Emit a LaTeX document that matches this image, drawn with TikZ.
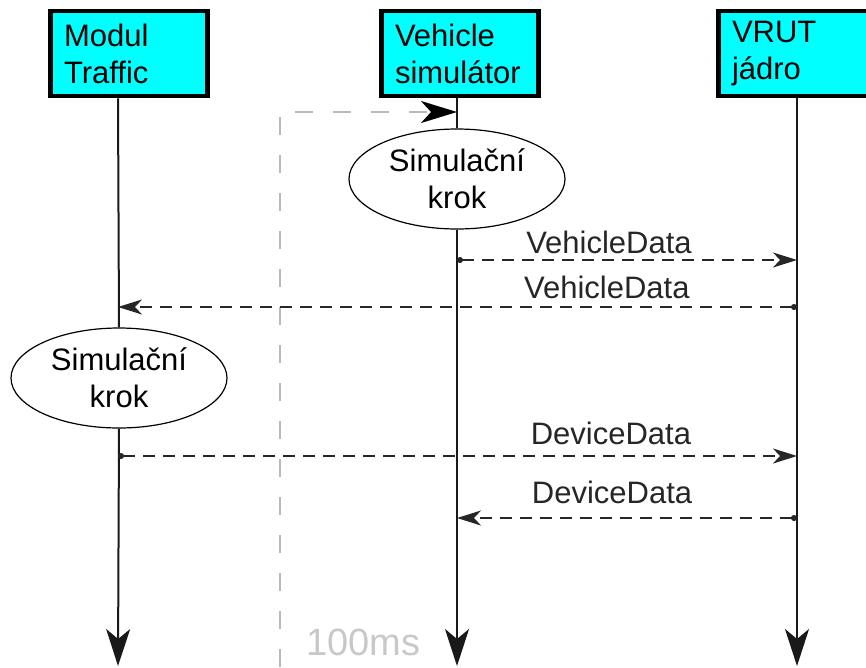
\documentclass[tikz,border=0pt]{standalone}
\usepackage{fontspec}
\setmainfont{Liberation Sans}
\usetikzlibrary{arrows.meta,shapes.geometric}
\definecolor{boxcyan}{RGB}{0,255,255}
\definecolor{loopgray}{RGB}{185,185,185}
\definecolor{msgray}{RGB}{200,200,200}
\begin{document}
\begin{tikzpicture}[x=1pt, y=-1pt, every node/.style={font=\fontsize{31}{37}\selectfont},
  box/.style={draw,line width=4.5pt,fill=boxcyan,minimum width=157pt,minimum height=85pt,text width=130pt,align=left,inner sep=0pt},
  krok/.style={draw,ellipse,line width=1.2pt,minimum width=216pt,minimum height=100pt,align=center,inner sep=0pt},
  life/.style={line width=2pt,black!90},
  lifeend/.style={life,-{Stealth[length=37pt,width=24pt,inset=10pt]}},
  msg/.style={line width=1.5pt,black!85,dash pattern=on 12pt off 8pt,{Circle[length=6pt]}-{Stealth[length=24pt,width=15pt,inset=7pt]}},
  lbl/.style={anchor=base,inner sep=0pt}]
\useasboundingbox (0,0) rectangle (866,667);
\node[box] (traffic) at (129,53.5) {Modul\\Traffic};
\node[box] (vehicle) at (460,53.5) {Vehicle\\simulátor};
\node[box] (vrut) at (797,53.5) {VRUT\\jádro};
\coordinate (trafficEnd) at (118,666);
\coordinate (vehicleEnd) at (457,666);
\coordinate (vrutEnd) at (797,666);
\node[krok] (vkrok) at (457,179) {Simulační\\krok};
\node[krok] (tkrok) at (119,378) {Simulační\\krok};
% 100ms loop
\coordinate (tick) at (280,667);
\draw[line width=2pt,loopgray,dash pattern=on 18pt off 20pt,-{Stealth[black,length=36pt,width=22pt,inset=10pt]}]
  (tick) |- (vehicleEnd |- 0,112);
\node[lbl,anchor=base west,text=msgray,font=\fontsize{38}{44}\selectfont] (period) at (306,655) {100ms};
% lifelines
\draw[life] (traffic.south -| trafficEnd) -- (tkrok.north);
\draw[lifeend] (tkrok.south) -- (trafficEnd);
\draw[life] (vehicle.south -| vehicleEnd) -- (vkrok.north);
\draw[lifeend] (vkrok.south) -- (vehicleEnd);
\draw[lifeend] (vrut.south -| vrutEnd) -- (vrutEnd);
% messages
\draw[msg] (vehicleEnd |- 0,260) -- (vrutEnd |- 0,260) node[lbl,pos=.447,yshift=7pt] {VehicleData};
\draw[msg] (vrutEnd |- 0,307) -- (trafficEnd |- 0,307) node[lbl,pos=.28,yshift=9pt] {VehicleData};
\draw[msg] (trafficEnd |- 0,456) -- (vrutEnd |- 0,456) node[lbl,pos=.726,yshift=12pt] {DeviceData};
\draw[msg] (vrutEnd |- 0,518) -- (vehicleEnd |- 0,518) node[lbl,pos=.544,yshift=15pt] {DeviceData};
\end{tikzpicture}
\end{document}
